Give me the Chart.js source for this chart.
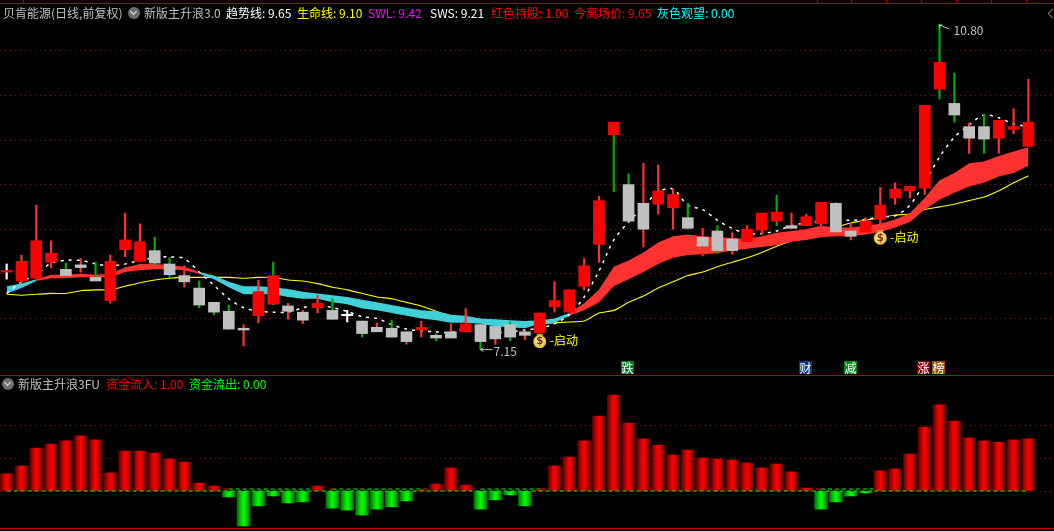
<!DOCTYPE html>
<html>
<head>
<meta charset="utf-8">
<script src="https://cdn.jsdelivr.net/npm/chart.js@4/dist/chart.umd.min.js"></script>
<style>
html,body{margin:0;padding:0;background:#000;width:1054px;height:531px;overflow:hidden}
canvas{position:absolute;left:0;display:block}
.t{position:absolute;font:12px/16px "Noto Sans CJK SC","DejaVu Sans",sans-serif;white-space:pre}
.rule{position:absolute;left:0;width:1054px;height:1px;background:#b00000}
.tick{position:absolute;top:0;width:1px;height:3px;background:#b00000}
.tag{position:absolute;top:361px;width:13px;height:13px;font:12px/13px "Noto Sans CJK SC",sans-serif;color:#fff;text-align:center}
.cv{position:absolute;width:12px;height:12px;border-radius:50%;background:#6e6e6e}
.cv:after{content:"";position:absolute;left:3px;top:2px;width:4px;height:4px;border:solid #e8e8e8;border-width:0 1.5px 1.5px 0;transform:rotate(45deg)}
.back{position:absolute;left:1049px;top:10px;width:6px;height:6px;border:solid #777;border-width:0 0 1px 1px;transform:rotate(45deg)}
</style>
</head>
<body>
<canvas id="priceChart" width="1054" height="375" style="top:0;width:1054px;height:375px"></canvas>
<canvas id="flowChart" width="1054" height="156" style="top:375px;width:1054px;height:156px"></canvas>

<div class="rule" style="top:3px"></div>
<div class="rule" style="top:375px"></div>
<div class="rule" style="top:528px"></div>
<div class="tick" style="left:23px"></div><div class="tick" style="left:817px"></div><div class="tick" style="left:851px"></div>
<div class="tick" style="left:886px"></div><div class="tick" style="left:921px"></div><div class="tick" style="left:956px"></div>
<div class="tick" style="left:991px"></div><div class="tick" style="left:1026px"></div>
<div class="back"></div>

<div class="t" style="left:3px;top:5px;color:#c0c0c0">贝肯能源(日线,前复权)</div>
<div class="cv" style="left:128px;top:7px"></div>
<div class="t" style="left:144px;top:5px;color:#c0c0c0">新版主升浪3.0</div>
<div class="t" style="left:226px;top:5px;color:#fff">趋势线: 9.65</div>
<div class="t" style="left:297px;top:5px;color:#ff0">生命线: 9.10</div>
<div class="t" style="left:368px;top:5px;color:#f0f">SWL: 9.42</div>
<div class="t" style="left:430px;top:5px;color:#fff">SWS: 9.21</div>
<div class="t" style="left:491px;top:5px;color:#f00">红色持股: 1.00</div>
<div class="t" style="left:574px;top:5px;color:#f00">今离场价: 9.65</div>
<div class="t" style="left:657px;top:5px;color:#0ff">灰色观望: 0.00</div>

<div class="cv" style="left:2px;top:378px"></div>
<div class="t" style="left:18px;top:376px;color:#c0c0c0">新版主升浪3FU</div>
<div class="t" style="left:106px;top:376px;color:#f00">资金流入: 1.00</div>
<div class="t" style="left:189px;top:376px;color:#0f0">资金流出: 0.00</div>

<div class="tag" style="left:621px;background:#007a20">跌</div>
<div class="tag" style="left:799px;background:#0a3a78">财</div>
<div class="tag" style="left:844px;background:#008a10">减</div>
<div class="tag" style="left:917px;background:#8a0000">涨</div>
<div class="tag" style="left:932px;background:#9a5400">榜</div>

<script>
// ---------- price panel data ----------
const opens  = [8.02,7.92,7.95,8.13,8.05,8.10,7.96,7.70,8.27,8.14,8.26,8.11,7.98,7.84,7.68,7.58,7.39,7.53,7.66,7.64,7.57,7.62,7.59,7.53,7.47,7.40,7.39,7.35,7.37,7.31,7.35,7.35,7.43,7.41,7.43,7.35,7.34,7.63,7.57,7.86,8.33,9.56,9.00,8.79,8.78,8.74,8.63,8.41,8.48,8.39,8.36,8.49,8.59,8.54,8.54,8.56,8.79,8.48,8.47,8.61,8.85,8.93,8.96,10.07,9.91,9.65,9.65,9.52,9.62,9.43];
const closes = [8.03,8.14,8.37,8.23,7.98,8.07,7.92,8.14,8.38,8.36,8.12,7.99,7.91,7.65,7.57,7.38,7.37,7.80,7.98,7.58,7.48,7.67,7.49,7.53,7.33,7.35,7.29,7.24,7.40,7.28,7.28,7.44,7.24,7.27,7.29,7.31,7.56,7.70,7.82,8.09,8.82,9.70,8.59,8.50,8.93,8.89,8.51,8.31,8.26,8.26,8.50,8.68,8.69,8.51,8.64,8.80,8.47,8.42,8.59,8.77,8.95,8.98,9.89,10.37,9.78,9.52,9.51,9.72,9.65,9.70];
const highs  = [8.11,8.21,8.77,8.37,8.12,8.17,8.13,8.21,8.68,8.56,8.41,8.18,8.09,7.92,7.68,7.65,7.43,7.93,8.13,7.67,7.59,7.76,7.72,7.59,7.47,7.45,7.48,7.35,7.47,7.33,7.44,7.61,7.44,7.41,7.46,7.36,7.56,7.91,7.82,8.17,8.87,9.70,9.12,9.24,9.22,8.95,8.79,8.51,8.54,8.46,8.54,8.68,8.88,8.68,8.67,8.80,8.80,8.57,8.63,8.97,9.02,8.98,9.89,10.80,10.25,9.69,9.79,9.72,9.85,10.18];
const lows   = [7.94,7.89,7.95,8.07,7.98,8.02,7.92,7.67,8.19,8.14,8.10,7.96,7.85,7.62,7.54,7.38,7.19,7.45,7.65,7.49,7.44,7.56,7.49,7.46,7.29,7.35,7.29,7.21,7.29,7.25,7.28,7.35,7.15,7.21,7.25,7.26,7.34,7.57,7.57,7.82,8.13,8.92,8.59,8.30,8.67,8.50,8.50,8.20,8.23,8.22,8.36,8.44,8.54,8.51,8.54,8.54,8.47,8.38,8.47,8.50,8.78,8.85,8.89,9.96,9.70,9.35,9.35,9.35,9.57,9.43];
const wickKinds = ("wrrrgrgrrr"+"ggrgggrrgr"+"rrgwgrgrrg"+"rrgrgrrrrr"+"rggrrrgrgr"+"rrgrrrgrrr"+"rrrggrgrrr").split("");
const ribbonUpper = [7.86,7.89,7.94,7.99,7.99,8.00,7.99,8.00,8.07,8.11,8.11,8.10,8.08,8.02,7.98,7.91,7.86,7.86,7.85,7.83,7.80,7.78,7.76,7.74,7.71,7.68,7.65,7.62,7.59,7.58,7.54,7.53,7.50,7.49,7.48,7.47,7.48,7.50,7.56,7.67,7.82,8.08,8.15,8.24,8.35,8.42,8.44,8.42,8.41,8.40,8.39,8.42,8.46,8.48,8.50,8.54,8.52,8.52,8.54,8.56,8.61,8.68,8.85,9.05,9.13,9.24,9.26,9.32,9.37,9.42];
const ribbonLower = [7.78,7.84,7.92,7.95,7.95,7.96,7.96,7.96,8.02,8.04,8.05,8.05,8.04,8.00,7.94,7.85,7.77,7.77,7.77,7.74,7.72,7.72,7.68,7.66,7.61,7.59,7.56,7.53,7.50,7.48,7.45,7.45,7.44,7.41,7.40,7.39,7.44,7.45,7.53,7.59,7.68,7.86,7.94,8.02,8.11,8.18,8.21,8.22,8.23,8.26,8.28,8.30,8.32,8.36,8.38,8.41,8.42,8.42,8.44,8.47,8.52,8.58,8.72,8.83,8.91,8.98,9.02,9.09,9.13,9.21];
const lifeLine = [7.77,7.76,7.77,7.78,7.78,7.81,7.82,7.82,7.86,7.90,7.93,7.95,7.96,7.96,7.96,7.96,7.95,7.96,7.96,7.93,7.92,7.89,7.85,7.82,7.78,7.74,7.72,7.68,7.64,7.58,7.53,7.48,7.46,7.44,7.43,7.43,7.44,7.45,7.46,7.47,7.56,7.59,7.68,7.75,7.84,7.91,7.98,8.02,8.08,8.13,8.18,8.24,8.31,8.37,8.44,8.48,8.52,8.57,8.60,8.63,8.66,8.67,8.72,8.75,8.78,8.82,8.86,8.93,9.02,9.10];
const trendLine = [7.78,7.91,7.99,8.12,8.15,8.15,8.11,8.09,8.11,8.15,8.18,8.19,8.17,8.02,7.87,7.72,7.62,7.58,7.57,7.57,7.62,7.65,7.62,7.58,7.52,7.50,7.43,7.38,7.36,7.35,7.34,7.39,7.35,7.34,7.35,7.37,7.39,7.44,7.54,7.74,8.03,8.38,8.58,8.75,8.92,8.95,8.77,8.72,8.60,8.51,8.45,8.45,8.48,8.54,8.57,8.59,8.60,8.60,8.61,8.64,8.65,8.77,9.02,9.31,9.53,9.67,9.78,9.75,9.68,9.65];
const ribbonTurns = [2,13,38];              // candles where the band switches colour
const startSignals = [36,59];               // "启动" markers
const highMark = {index:63, price:10.80, text:"10.80"};
const lowMark  = {index:32, price:7.15,  text:"7.15"};
const priceGrid = [7.5,8,8.5,9,9.5,10,10.5];

// ---------- fund flow panel data ----------
const flows = [5.2,7.6,13.0,14.2,15.2,16.7,15.5,5.5,12.1,12.1,11.5,9.7,8.8,2.4,1.5,-1.8,-10.6,-4.5,-1.5,-3.6,-3.3,1.5,-5.2,-5.8,-7.3,-5.5,-4.8,-3.0,0.3,2.1,7.0,1.8,-5.5,-2.7,-1.2,-4.5,0.3,7.6,10.3,15.2,22.7,29.1,20.6,15.8,13.9,10.9,12.4,10.0,9.7,9.4,8.5,7.0,8.2,5.8,0.9,-5.5,-3.3,-1.5,-0.6,6.1,6.7,11.2,19.4,26.1,21.2,16.1,15.2,14.8,15.5,15.8];
const flowGrid = [0,10,20];
const zeroLine = flows.map(() => 0);
const signLine = flows.map(() => 0.6);

// ---------- styling ----------
const RED='#ff0000', GRAY='#c0c0c0', WRED='#ff3232', WGREEN='#00b000', CYAN='#40d0d8', BAND='#ff3232';
const xRange = {min:-0.45, max:70.73};
const GRID_COLOR='#8a1414';
const idx = opens.map((_,i)=>i);
const pts = arr => arr.map((v,i)=>({x:i,y:v}));
const wickColor = k => k==='r'?WRED : k==='g'?WGREEN : '#ffffff';
const bodyColor = i => closes[i]===opens[i] ? '#ffffff' : closes[i]>opens[i] ? RED : GRAY;
const bandColor = i => { let n=0; for(const t of ribbonTurns) if(i>=t) n++; return n%2===0 ? CYAN : BAND; };

function axisCommon(levels){
  return {
    display:true,
    ticks:{display:false},
    border:{display:false,dash:[1,4]},
    grid:{color:GRID_COLOR,lineWidth:1,drawTicks:false},
    afterBuildTicks:s=>{s.ticks=levels.map(v=>({value:v}));}
  };
}
const xAxis = {type:'linear',display:false,offset:false,min:xRange.min,max:xRange.max};

// labels & markers, anchored through the scales
const markers = {
  id:'markers',
  afterDatasetsDraw(chart){
    const {ctx,scales:{x,y}}=chart;
    ctx.save();
    ctx.font='12px "Noto Sans CJK SC","DejaVu Sans",sans-serif';
    ctx.textBaseline='middle';
    // high
    let px=x.getPixelForValue(highMark.index), py=y.getPixelForValue(highMark.price);
    ctx.strokeStyle='#c0c0c0'; ctx.lineWidth=1;
    ctx.beginPath(); ctx.moveTo(px,py+1); ctx.lineTo(px+3,py+1); ctx.moveTo(px,py+1); ctx.lineTo(px+10,py+5);
    ctx.moveTo(px,py+1); ctx.lineTo(px,py+4); ctx.stroke();
    ctx.fillStyle='#c0c0c0'; ctx.fillText(highMark.text,px+14,py+6);
    // low
    px=x.getPixelForValue(lowMark.index); py=y.getPixelForValue(lowMark.price);
    ctx.beginPath(); ctx.moveTo(px,py); ctx.lineTo(px+12,py); ctx.moveTo(px,py); ctx.lineTo(px+3,py-2); ctx.moveTo(px,py); ctx.lineTo(px+3,py+2); ctx.stroke();
    ctx.fillText(lowMark.text,px+13,py+2);
    // start signals
    for(const i of startSignals){
      px=x.getPixelForValue(i); py=y.getPixelForValue(lows[i])+8;
      ctx.fillStyle='#c8a030'; ctx.fillRect(px-3,py-7,6,3);
      ctx.beginPath(); ctx.arc(px,py+1,6.5,0,Math.PI*2);
      const g=ctx.createRadialGradient(px-1,py,1,px,py+1,7);
      g.addColorStop(0,'#fff6c0'); g.addColorStop(1,'#e8b820'); ctx.fillStyle=g; ctx.fill();
      ctx.fillStyle='#7a2a10'; ctx.font='bold 10px "DejaVu Sans",sans-serif'; ctx.textAlign='center';
      ctx.fillText('$',px,py+1); ctx.textAlign='left';
      ctx.font='12px "Noto Sans CJK SC","DejaVu Sans",sans-serif';
      ctx.fillStyle='#ffff00'; ctx.fillText('-启动',px+10,py);
    }
    ctx.restore();
  }
};

new Chart(document.getElementById('priceChart'),{
  data:{datasets:[
    {type:'bar',label:'body',order:1,grouped:false,barThickness:11,minBarLength:1.5,
      data:idx.map(i=>({x:i,y:[opens[i],closes[i]]})),backgroundColor:idx.map(bodyColor),borderWidth:0},
    {type:'bar',label:'wick',order:2,grouped:false,barThickness:1.5,
      data:idx.map(i=>({x:i,y:[lows[i],highs[i]]})),backgroundColor:wickKinds.map(wickColor),borderWidth:0},
    {type:'line',label:'趋势线',order:3,data:pts(trendLine),borderColor:'#ffffff',borderWidth:1.5,borderDash:[3,5],tension:0.3,pointRadius:0,fill:false},
    {type:'line',label:'SWL',order:5,data:pts(ribbonUpper),borderWidth:0,borderColor:'transparent',backgroundColor:BAND,pointRadius:0,tension:0,
      fill:'+1',segment:{backgroundColor:c=>bandColor(c.p0DataIndex)}},
    {type:'line',label:'SWS',order:5,data:pts(ribbonLower),borderWidth:0,borderColor:'transparent',pointRadius:0,tension:0,fill:false},
    {type:'line',label:'生命线',order:6,data:pts(lifeLine),borderColor:'#ffff00',borderWidth:1.1,tension:0.2,pointRadius:0,fill:false}
  ]},
  options:{
    responsive:false,animation:false,devicePixelRatio:1,
    layout:{padding:0},
    plugins:{legend:{display:false},title:{display:false},tooltip:{enabled:false}},
    scales:{x:xAxis,y:Object.assign({type:'linear',min:9.5-235/89.2,max:9.5+140/89.2},axisCommon(priceGrid))}
  },
  plugins:[markers]
});

function cylinder(ctx,i){
  const chart=ctx.chart, cx=chart.scales.x.getPixelForValue(i);
  const pos=flows[i]>=0;
  if(!Number.isFinite(cx)) return pos?'#ff0000':'#00ff00';
  const g=chart.ctx.createLinearGradient(cx-6.5,0,cx+6.5,0);
  g.addColorStop(0,pos?'#5a0000':'#007000');
  g.addColorStop(.3,pos?'#d00000':'#00d000');
  g.addColorStop(.5,pos?'#ff0000':'#00ff00');
  g.addColorStop(.7,pos?'#d00000':'#00d000');
  g.addColorStop(1,pos?'#5a0000':'#007000');
  return g;
}

new Chart(document.getElementById('flowChart'),{
  data:{datasets:[
    {type:'line',label:'zero',order:0,data:pts(zeroLine),borderColor:'#00ff00',borderWidth:1,borderDash:[4,3],pointRadius:0,fill:false},
    {type:'line',label:'sign',order:3,data:pts(signLine),borderColor:'#ff0000',borderWidth:1,pointRadius:0,fill:false,
      segment:{borderColor:c=>flows[c.p0DataIndex]<0?'#00ff00':'#ff0000',borderDash:c=>flows[c.p0DataIndex]<0?[4,3]:[6,6]}},
    {type:'bar',label:'资金流',order:1,grouped:false,barThickness:13,data:pts(flows),borderWidth:0,
      backgroundColor:c=>c.type==='data'?cylinder(c,c.dataIndex):'#f00'}
  ]},
  options:{
    responsive:false,animation:false,devicePixelRatio:1,
    layout:{padding:0},
    plugins:{legend:{display:false},title:{display:false},tooltip:{enabled:false}},
    scales:{x:xAxis,y:Object.assign({type:'linear',min:-40/3.3,max:116/3.3},axisCommon(flowGrid))}
  }
});
</script>
</body>
</html>
